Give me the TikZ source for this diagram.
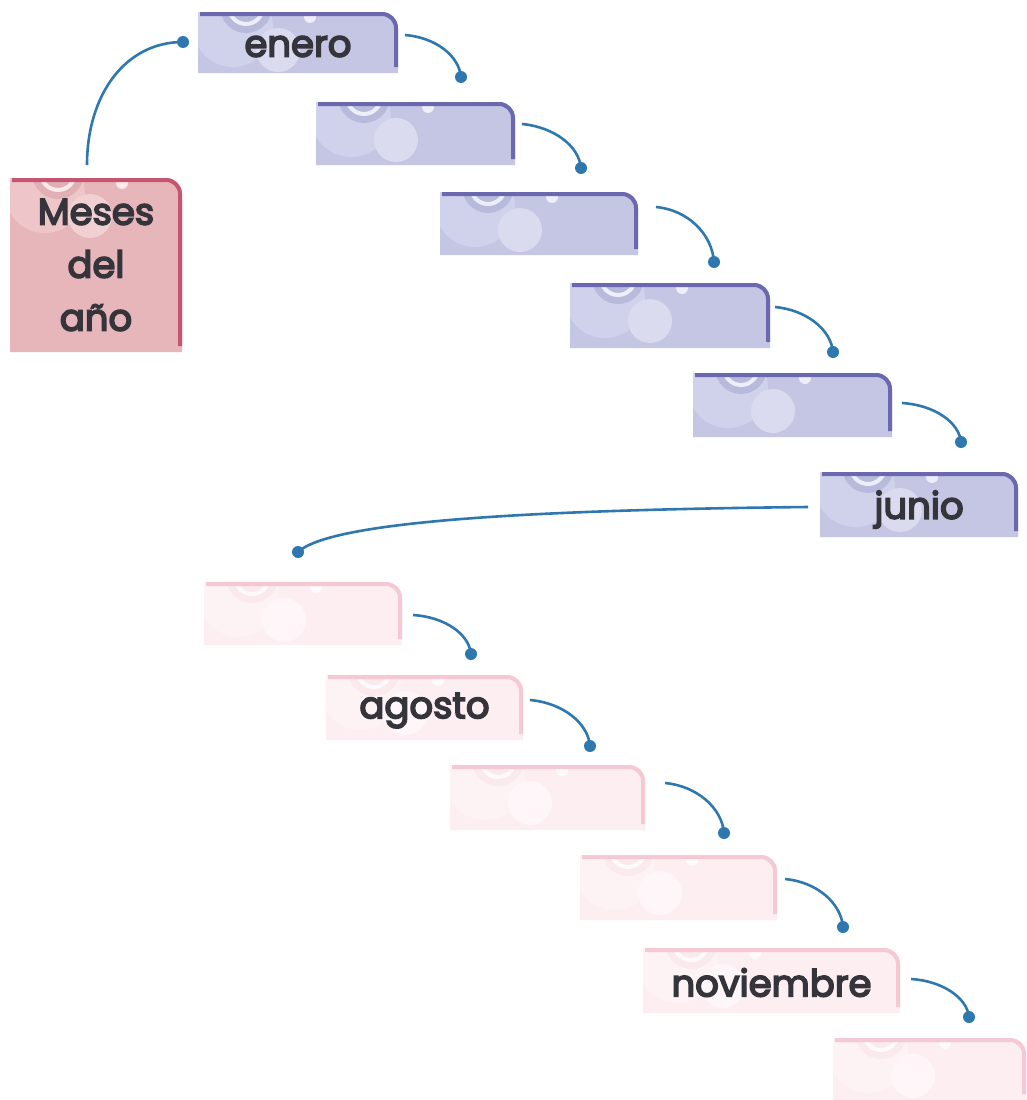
\documentclass[tikz,border=0pt]{standalone}
\usepackage{fontspec}
\setmainfont{Poppins}
\usetikzlibrary{calc,backgrounds}
% blue theme
\definecolor{Bfill}{RGB}{196,198,228}
\definecolor{Bstripe}{RGB}{108,104,176}
\definecolor{Bpale}{RGB}{208,210,235}
\definecolor{Bring}{RGB}{184,186,220}
\definecolor{Blight}{RGB}{218,219,239}
\definecolor{Bwhite}{RGB}{238,238,248}
% red theme
\definecolor{Rfill}{RGB}{230,182,186}
\definecolor{Rstripe}{RGB}{198,86,112}
\definecolor{Rpale}{RGB}{238,198,201}
\definecolor{Rring}{RGB}{224,176,181}
\definecolor{Rlight}{RGB}{240,208,210}
\definecolor{Rwhite}{RGB}{250,234,236}
% pink theme
\definecolor{Pfill}{RGB}{252,238,241}
\definecolor{Pstripe}{RGB}{245,200,212}
\definecolor{Ppale}{RGB}{253,243,245}
\definecolor{Pring}{RGB}{250,233,237}
\definecolor{Plight}{RGB}{254,246,248}
\definecolor{Pwhite}{RGB}{255,250,251}
\definecolor{conn}{RGB}{46,120,175}
\definecolor{txt}{RGB}{52,52,58}
\newcommand\tabshape[2]{%
  \fill[#2fill] (#1.south west) -- (#1.north west) -- ($(#1.north east)+(-16,0)$)
     arc[start angle=-90,end angle=0,radius=16] -- (#1.south east) -- cycle;
  \begin{scope}
    \clip (#1.south west) -- (#1.north west) -- ($(#1.north east)+(-16,0)$)
       arc[start angle=-90,end angle=0,radius=16] -- (#1.south east) -- cycle;
    \fill[#2pale] ($(#1.north west)+(35,15)$) circle[radius=40];
    \fill[#2ring] ($(#1.north west)+(48,-5)$) circle[radius=26];
    \draw[#2white, line width=4pt] ($(#1.north west)+(48,-5)$) circle[radius=17];
    \fill[#2light] ($(#1.north west)+(80,38)$) circle[radius=22];
    \fill[#2white] ($(#1.north west)+(112,5)$) circle[radius=6];
  \end{scope}
  \draw[#2stripe, line width=4pt] ($(#1.north west)+(2,2)$) -- ($(#1.north east)+(-16,2)$)
     arc[start angle=-90,end angle=0,radius=14] -- ($(#1.south east)+(-2,-6)$);
}
\newcommand\lowered[2]{\raisebox{-#1}[\height][\depth]{#2}}
\newcommand\heavier{\special{pdf:literal direct 2 Tr 1.6 w}}
\tikzset{
  tab/.style={inner sep=0pt, outer sep=0pt, font=\fontsize{37}{53}\selectfont, text=txt,
              execute at begin node=\heavier},
  dot/.style={circle, fill=conn, inner sep=0pt, minimum size=12pt},
  link/.style={conn, line width=2.6pt}
}
\begin{document}
\begin{tikzpicture}[x=1pt,y=-1pt]
\useasboundingbox (0,0) rectangle (1026,1100);
% boxes
\node[tab, minimum width=172pt, minimum height=174pt, align=center] (meses) at (96,265) {Meses\\del\\año};
\node[tab, minimum width=200pt, minimum height=61pt] (enero) at (298,42.5) {\lowered{4pt}{enero}};
\node[tab, minimum width=199pt, minimum height=63pt] (feb) at (415.5,133.5) {};
\node[tab, minimum width=198pt, minimum height=63pt] (mar) at (539,223.5) {};
\node[tab, minimum width=200pt, minimum height=65pt] (abr) at (670,315.5) {};
\node[tab, minimum width=199pt, minimum height=64pt] (may) at (792.5,405) {};
\node[tab, minimum width=198pt, minimum height=65pt] (junio) at (919,504.5) {\lowered{5pt}{junio}};
\node[tab, minimum width=198pt, minimum height=63pt] (jul) at (303,613.5) {};
\node[tab, minimum width=197pt, minimum height=65pt] (agosto) at (424.5,707.5) {\lowered{3pt}{agosto}};
\node[tab, minimum width=195pt, minimum height=65pt] (sep) at (547.5,797.5) {};
\node[tab, minimum width=197pt, minimum height=65pt] (oct) at (678.5,887.5) {};
\node[tab, minimum width=257pt, minimum height=65pt] (nov) at (771.5,980.5) {\lowered{2pt}{noviembre}};
\node[tab, minimum width=193pt, minimum height=62pt] (dic) at (929.5,1069) {};
\begin{scope}[on background layer]
  \fill[white] (0,0) rectangle (1026,1100);
  \tabshape{meses}{R}
  \foreach \n in {enero,feb,mar,abr,may,junio}{\tabshape{\n}{B}}
  \foreach \n in {jul,agosto,sep,oct,nov,dic}{\tabshape{\n}{P}}
\end{scope}
% connector start points and dots
\coordinate (s0) at (87,165);   \node[dot] (d0) at (183,42) {};
\coordinate (s1) at (405,35);   \node[dot] (d1) at (461,77) {};
\coordinate (s2) at (522,124);  \node[dot] (d2) at (581,168) {};
\coordinate (s3) at (656,207);  \node[dot] (d3) at (714,262) {};
\coordinate (s4) at (775,307);  \node[dot] (d4) at (833,352) {};
\coordinate (s5) at (902,403);  \node[dot] (d5) at (961,442) {};
\coordinate (s6) at (808,507);  \node[dot] (d6) at (298,552) {};
\coordinate (s7) at (413,615);  \node[dot] (d7) at (471,654) {};
\coordinate (s8) at (530,700);  \node[dot] (d8) at (590,746) {};
\coordinate (s9) at (665,783);  \node[dot] (d9) at (724,833) {};
\coordinate (s10) at (785,879); \node[dot] (d10) at (843,927) {};
\coordinate (s11) at (911,979); \node[dot] (d11) at (969,1017) {};
\draw[link] (s0) .. controls (87,95) and (125,42) .. (d0.center);
\draw[link] (s1) .. controls (436,37.5) and (459,56) .. (d1.center);
\draw[link] (s2) .. controls (554,127) and (579,146) .. (d2.center);
\draw[link] (s3) .. controls (688,210) and (712,234) .. (d3.center);
\draw[link] (s4) .. controls (807,310) and (831,330) .. (d4.center);
\draw[link] (s5) .. controls (934,405) and (959,422) .. (d5.center);
\draw[link] (s6) .. controls (520,510) and (330,522) .. (d6.center);
\draw[link] (s7) .. controls (445,617) and (469,634) .. (d7.center);
\draw[link] (s8) .. controls (563,703) and (588,723) .. (d8.center);
\draw[link] (s9) .. controls (697,786) and (722,808) .. (d9.center);
\draw[link] (s10) .. controls (817,882) and (841,903) .. (d10.center);
\draw[link] (s11) .. controls (943,981) and (967,998) .. (d11.center);
\end{tikzpicture}
\end{document}
